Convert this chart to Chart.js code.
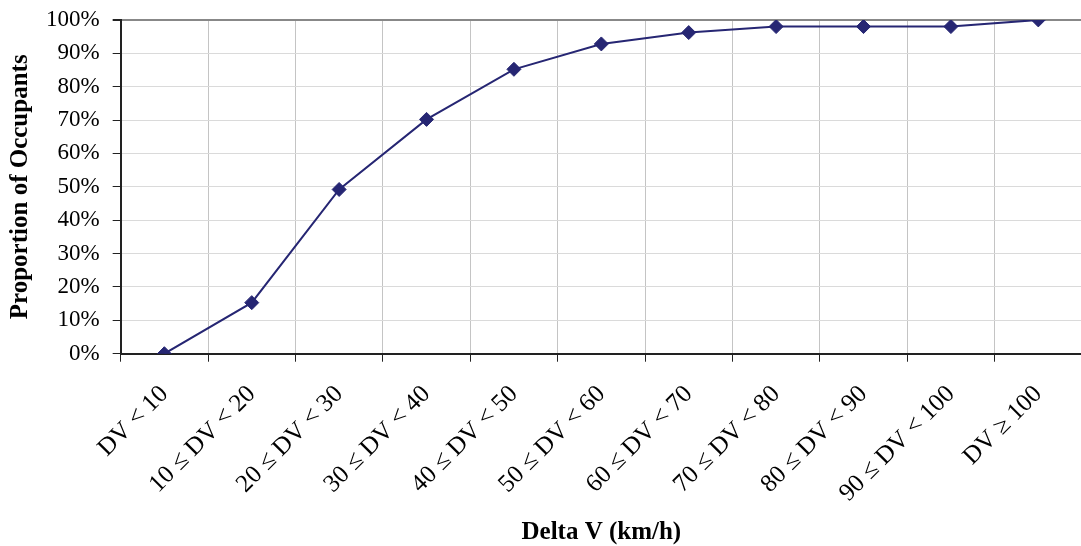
<!DOCTYPE html>
<html>
<head>
<meta charset="utf-8">
<script src="https://cdn.jsdelivr.net/npm/chart.js@4"></script>
<style>
  html, body { margin: 0; padding: 0; background: #fff; overflow: hidden; }
  #wrap { width: 1090px; height: 546px; }
</style>
</head>
<body>
<div id="wrap"><canvas id="chart"></canvas></div>
<script>
const categories = ['DV < 10', '10 ≤ DV < 20', '20 ≤ DV < 30', '30 ≤ DV < 40', '40 ≤ DV < 50',
    '50 ≤ DV < 60', '60 ≤ DV < 70', '70 ≤ DV < 80', '80 ≤ DV < 90', '90 ≤ DV < 100', 'DV ≥ 100'];
const proportion = [0, 15.3, 49.2, 70.2, 85.2, 92.8, 96.2, 98.0, 98.0, 98.0, 100];
const yTicks = [0, 10, 20, 30, 40, 50, 60, 70, 80, 90, 100];

const navy = '#262673';
const serif = "'Liberation Serif', 'Times New Roman', serif";

new Chart(document.getElementById('chart').getContext('2d'), {
    type: 'line',
    data: {
        labels: categories,
        datasets: [{
            data: proportion,
            borderColor: navy,
            backgroundColor: navy,
            borderWidth: 2,
            pointStyle: 'rectRot',
            pointRadius: 7,
            pointBorderWidth: 1,
            pointBackgroundColor: navy,
            pointBorderColor: navy,
            tension: 0
        }]
    },
    options: {
        responsive: true,
        maintainAspectRatio: false,
        animation: false,
        layout: { padding: { top: 13, left: 0, right: 0, bottom: 0 } },
        plugins: { legend: { display: false }, tooltip: { enabled: false } },
        scales: {
            x: {
                offset: true,
                grid: { offset: true, color: '#c4c4c4', tickColor: '#222', tickLength: 8, drawTicks: true },
                border: { color: '#222', width: 2 },
                ticks: { color: '#000', minRotation: 45, maxRotation: 45, font: { family: serif, size: 25 }, padding: 18 },
                title: { display: true, text: 'Delta V (km/h)', color: '#000', font: { family: serif, size: 25, weight: 'bold' }, padding: { top: -8, bottom: -2 } }
            },
            y: {
                min: 0,
                max: 100,
                afterBuildTicks: axis => { axis.ticks = yTicks.map(v => ({ value: v })); },
                grid: {
                    color: c => c.tick && c.tick.value === 100 ? '#888' : '#dadada',
                    lineWidth: c => c.tick && c.tick.value === 100 ? 2 : 1,
                    tickColor: '#222',
                    tickLength: 8
                },
                border: { color: '#222', width: 2 },
                ticks: { color: '#000', font: { family: serif, size: 23, lineHeight: 0.6 }, padding: 13, callback: v => v + '%' },
                title: { display: true, text: 'Proportion of Occupants', color: '#000', font: { family: serif, size: 25, weight: 'bold', lineHeight: 1 }, padding: { top: 8, bottom: 0 } }
            }
        }
    }
});
</script>
</body>
</html>
